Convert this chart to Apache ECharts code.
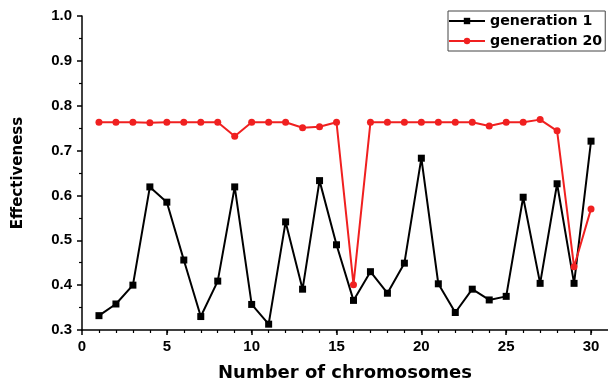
<!DOCTYPE html>
<html>
<head>
<meta charset="utf-8">
<script src="https://cdn.jsdelivr.net/npm/echarts@6/dist/echarts.min.js"></script>
<style>
  html, body { margin: 0; padding: 0; background: #fff; }
  #box { width: 608px; height: 387px; }
</style>
</head>
<body>
<div id="box"></div>
<script>
// chromosome count on the x axis
const chromosomes = [1, 2, 3, 4, 5, 6, 7, 8, 9, 10, 11, 12, 13, 14, 15,
  16, 17, 18, 19, 20, 21, 22, 23, 24, 25, 26, 27, 28, 29, 30];
// effectiveness, generation 1
const gen1 = [0.332, 0.358, 0.400, 0.619, 0.585, 0.456, 0.330, 0.409, 0.619, 0.357,
  0.313, 0.541, 0.391, 0.633, 0.490, 0.366, 0.430, 0.382, 0.449, 0.683,
  0.403, 0.339, 0.391, 0.367, 0.375, 0.596, 0.404, 0.626, 0.404, 0.721];
// effectiveness, generation 20
const gen20 = [0.763, 0.763, 0.763, 0.762, 0.763, 0.763, 0.763, 0.763, 0.732, 0.763,
  0.763, 0.763, 0.751, 0.753, 0.763, 0.401, 0.763, 0.763, 0.763, 0.763,
  0.763, 0.763, 0.763, 0.755, 0.763, 0.763, 0.769, 0.744, 0.441, 0.570];
const xMajor = [0, 5, 10, 15, 20, 25, 30];
const xMinor = chromosomes;

const graph = echarts.init(document.getElementById('box'));

const axisFont = {
  color: '#000',
  fontFamily: 'Liberation Sans',
  fontWeight: 'bold',
  fontSize: 15
};

graph.setOption({
  animation: false,
  grid: {left: 82, right: 0, top: 16, bottom: 56},
  legend: {
    orient: 'vertical',
    left: 448,
    top: 11,
    padding: [2, 3, 2, 0],
    itemWidth: 36,
    itemHeight: 8,
    itemGap: 4,
    borderColor: '#444',
    borderWidth: 1,
    textStyle: {
      color: '#000',
      fontFamily: 'DejaVu Sans',
      fontWeight: 'bold',
      fontSize: 14.2,
      lineHeight: 16
    },
    data: ['generation 1', 'generation 20']
  },
  xAxis: [
    {
      type: 'value',
      min: 0,
      max: 31,
      name: 'Number of chromosomes',
      nameLocation: 'middle',
      nameGap: 34,
      nameTextStyle: {
        color: '#000',
        fontFamily: 'DejaVu Sans',
        fontWeight: 'bold',
        fontSize: 18
      },
      axisLine: {lineStyle: {color: '#000', width: 1.5}},
      axisTick: {
        customValues: xMajor,
        length: 5,
        lineStyle: {color: '#000', width: 1.5}
      },
      axisLabel: Object.assign({customValues: xMajor, margin: 9}, axisFont),
      splitLine: {show: false}
    },
    {
      type: 'value',
      min: 0,
      max: 31,
      position: 'bottom',
      axisLine: {show: false},
      axisTick: {
        customValues: xMinor,
        length: 3,
        lineStyle: {color: '#000', width: 1.2}
      },
      axisLabel: {show: false},
      splitLine: {show: false}
    }
  ],
  yAxis: {
    type: 'value',
    min: 0.3,
    max: 1.0,
    interval: 0.1,
    name: 'Effectiveness',
    nameLocation: 'middle',
    nameGap: 56,
    nameTextStyle: {
      color: '#000',
      fontFamily: 'DejaVu Sans',
      fontWeight: 'bold',
      fontSize: 15
    },
    axisLine: {show: true, lineStyle: {color: '#000', width: 1.5}},
    axisTick: {length: 5, lineStyle: {color: '#000', width: 1.5}},
    minorTick: {show: true, splitNumber: 2, length: 3, lineStyle: {color: '#000', width: 1.2}},
    axisLabel: Object.assign({
      margin: 10,
      formatter: function (v) { return v.toFixed(1); }
    }, axisFont),
    splitLine: {show: false}
  },
  series: [
    {
      name: 'generation 1',
      type: 'line',
      data: chromosomes.map((c, i) => [c, gen1[i]]),
      symbol: 'rect',
      symbolSize: 7,
      color: '#000',
      lineStyle: {width: 2, color: '#000'},
      itemStyle: {color: '#000'},
      z: 2
    },
    {
      name: 'generation 20',
      type: 'line',
      data: chromosomes.map((c, i) => [c, gen20[i]]),
      symbol: 'circle',
      symbolSize: 7,
      color: '#f02020',
      lineStyle: {width: 2, color: '#f02020'},
      itemStyle: {color: '#f02020'},
      z: 3
    }
  ]
});

window.addEventListener('resize', function () {
  graph.resize();
});
</script>
</body>
</html>
